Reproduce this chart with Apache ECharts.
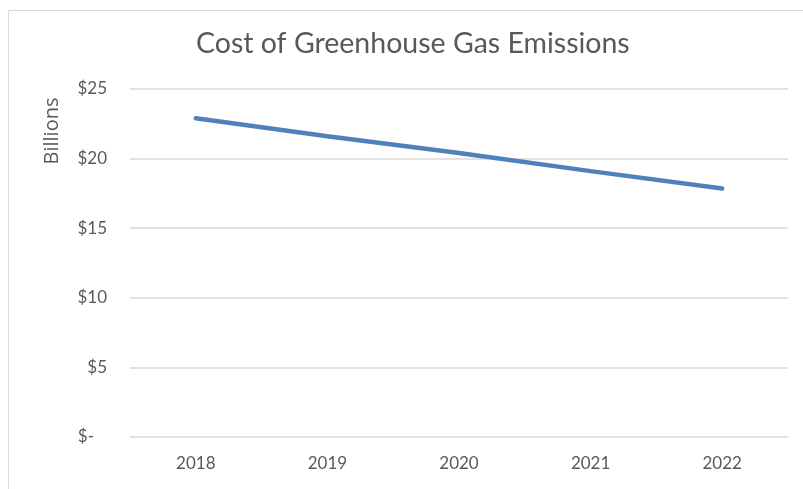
<!DOCTYPE html>
<html>
<head>
<meta charset="utf-8">
<script src="https://cdn.jsdelivr.net/npm/echarts@6/dist/echarts.min.js"></script>
<style>
  html, body { margin: 0; padding: 0; background: #fff; }
  #chart { width: 803px; height: 489px; }
</style>
</head>
<body>
<div id="chart"></div>
<script>
// data
const years = ['2018', '2019', '2020', '2021', '2022']
const costBillions = [22.9, 21.6, 20.4, 19.1, 17.85]
const yTicks = [0, 5, 10, 15, 20, 25]

let textColor = '#595959'
let chart = echarts.init(document.getElementById('chart'))

let option = {
  animation: false,
  textStyle: { fontFamily: 'Lato' },
  title: {
    text: 'Cost of Greenhouse Gas Emissions',
    left: 191,
    top: 24,
    textStyle: {
      color: textColor,
      fontSize: 28.5,
      fontWeight: 'normal',
      fontFamily: 'Lato',
    },
  },
  graphic: [
    {
      type: 'rect',
      shape: { x: 8.5, y: 10.5, width: 820, height: 500 },
      style: { fill: 'none', stroke: '#d9d9d9', lineWidth: 1 },
    },
    {
      type: 'text',
      x: 52,
      y: 131,
      rotation: Math.PI / 2,
      style: {
        text: 'Billions',
        fill: textColor,
        fontSize: 20,
        fontFamily: 'Open Sans',
        align: 'center',
        verticalAlign: 'middle',
      },
    },
  ],
  grid: {
    left: 130,
    right: 15,
    top: 89,
    bottom: 52,
  },
  xAxis: {
    type: 'category',
    data: years,
    boundaryGap: true,
    axisLine: { show: false },
    axisTick: { show: false },
    axisLabel: {
      color: textColor,
      fontSize: 17,
      margin: 18,
    },
  },
  yAxis: {
    type: 'value',
    min: yTicks[0],
    max: yTicks[yTicks.length - 1],
    interval: 5,
    axisLine: { show: false },
    axisTick: { show: false },
    splitLine: { lineStyle: { color: '#d9d9d9', width: 1.5 } },
    axisLabel: {
      color: textColor,
      fontSize: 17,
      margin: 23,
      formatter: function (v) {
        return v === 0 ? '$-   ' : '$' + v
      },
    },
  },
  series: [
    {
      type: 'line',
      data: costBillions,
      symbol: 'none',
      lineStyle: { color: '#4f81bd', width: 4.5, cap: 'round' },
    },
  ],
}

chart.setOption(option)
</script>
</body>
</html>
